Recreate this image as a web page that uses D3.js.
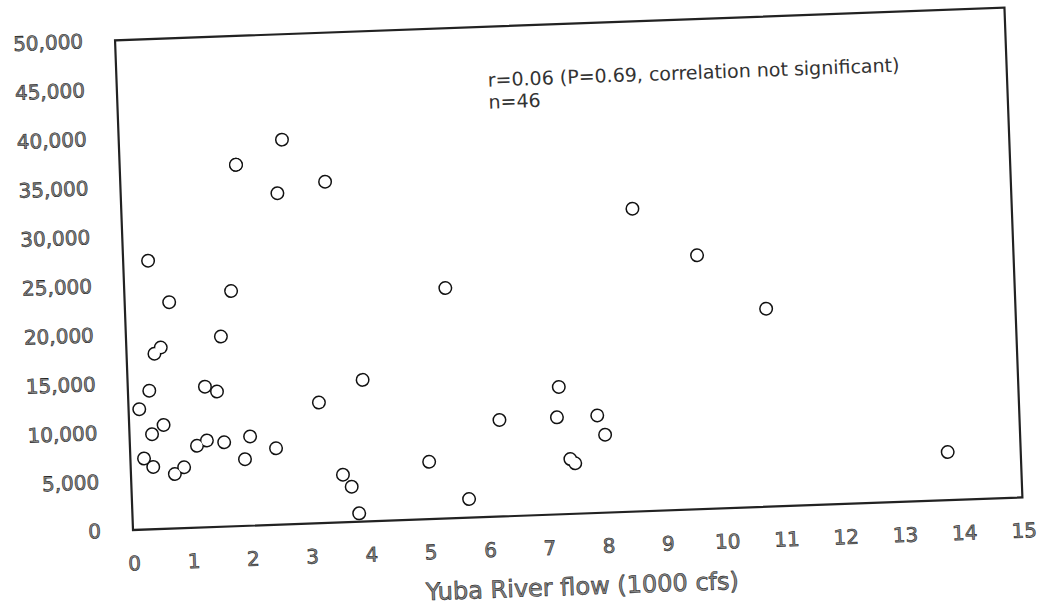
<!DOCTYPE html>
<html>
<head>
<meta charset="utf-8">
<script src="https://cdn.jsdelivr.net/npm/d3@7"></script>
<style>
  body { margin: 0; background: #fff; }
  .tick text { font-family: "DejaVu Sans", Verdana, sans-serif; }
</style>
</head>
<body>
<script>
// values (x in 1000 cfs)
const flow = [0.42, 1.80, 0.75, 1.60, 0.47, 0.58, 1.30, 1.50, 0.36, 0.18, 0.58, 0.38,
  1.13, 1.30, 1.59, 0.23, 0.38, 0.74, 0.90, 2.03, 2.46, 1.93, 2.75, 1.96, 1.96, 2.64,
  3.45, 3.96, 3.21, 3.57, 3.71, 3.82, 5.41, 7.26, 6.24, 7.21, 7.89, 8.01, 5.03, 7.41,
  7.49, 5.68, 8.61, 9.67, 10.80, 13.77];
const count = [27400, 24000, 23100, 19400, 17900, 18500, 14350, 13800, 14150, 12300, 10600, 9700,
  8350, 8850, 8600, 7250, 6350, 5550, 6200, 9100, 7800, 6800, 39250, 36850, 36850, 33800,
  34800, 14450, 12300, 4850, 3600, 850, 23500, 13000, 9850, 9900, 9950, 7950, 5850, 5600,
  5150, 1900, 30900, 25900, 20200, 4900];

const xTicks = [0, 1, 2, 3, 4, 5, 6, 7, 8, 9, 10, 11, 12, 13, 14, 15];
const yTicks = [0, 5000, 10000, 15000, 20000, 25000, 30000, 35000, 40000, 45000, 50000];
const xTitle = "Yuba River flow (1000 cfs)";
const note = ["r=0.06 (P=0.69, correlation not significant)", "n=46"];

const w = 1039;
const h = 607;
const pLeft = 133, pRight = 1023, pTop = 40, pBottom = 530;

const data = flow.map((d, i) => ({ x: d, y: count[i] }));

const svg = d3.select("body").append("svg")
  .attr("width", w)
  .attr("height", h);

// the scan is tilted a little
const g = svg.append("g").attr("transform", `rotate(-2.1, ${pLeft}, ${pBottom})`);

const xScale = d3.scaleLinear().domain([0, 15]).range([pLeft, pRight]);
const yScale = d3.scaleLinear().domain([0, 50000]).range([pBottom, pTop]);

// Axes
const xAxis = g.append("g")
  .attr("transform", `translate(0, ${pBottom})`)
  .call(d3.axisBottom(xScale).tickValues(xTicks).tickSize(0).tickPadding(26).tickFormat(d3.format("d")));

const yAxis = g.append("g")
  .attr("transform", `translate(${pLeft}, 0)`)
  .call(d3.axisLeft(yScale).tickValues(yTicks).tickSize(0).tickPadding(32).tickFormat(d3.format(",")));

[xAxis, yAxis].forEach((a) => {
  a.select(".domain").remove();
  a.selectAll("text")
    .attr("font-size", 20)
    .attr("fill", "#8a8a8a")
    .attr("stroke", "#222")
    .attr("stroke-width", 0.6);
});

// frame
g.append("rect")
  .attr("x", pLeft)
  .attr("y", pTop)
  .attr("width", pRight - pLeft)
  .attr("height", pBottom - pTop)
  .attr("fill", "none")
  .attr("stroke", "#222")
  .attr("stroke-width", 2.2);

// axis title
g.append("text")
  .attr("x", (pLeft + pRight) / 2 + 2)
  .attr("y", 611)
  .attr("text-anchor", "middle")
  .attr("font-family", "DejaVu Sans, Verdana, sans-serif")
  .attr("font-size", 24)
  .attr("fill", "#8a8a8a")
  .attr("stroke", "#222")
  .attr("stroke-width", 0.6)
  .text(xTitle);

// note
g.selectAll(".note")
  .data(note)
  .enter()
  .append("text")
  .attr("class", "note")
  .attr("x", 504)
  .attr("y", (d, i) => 100 + i * 22)
  .attr("font-family", "DejaVu Sans, Verdana, sans-serif")
  .attr("font-size", 19)
  .attr("fill", "#333")
  .text((d) => d);

// Points: outlines first, white fill on top so touching circles merge
g.selectAll(".ring")
  .data(data)
  .enter()
  .append("circle")
  .attr("class", "ring")
  .attr("cx", (d) => xScale(d.x))
  .attr("cy", (d) => yScale(d.y))
  .attr("r", 5.5)
  .attr("fill", "#fff")
  .attr("stroke", "#111")
  .attr("stroke-width", 3);

g.selectAll(".dot")
  .data(data)
  .enter()
  .append("circle")
  .attr("class", "dot")
  .attr("cx", (d) => xScale(d.x))
  .attr("cy", (d) => yScale(d.y))
  .attr("r", 5.5)
  .attr("fill", "#fff");
</script>
</body>
</html>
